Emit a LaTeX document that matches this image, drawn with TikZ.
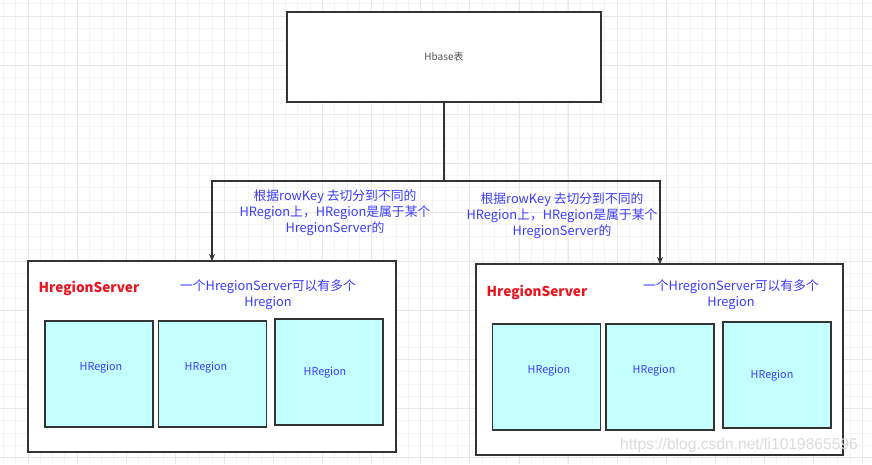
\documentclass[tikz,border=0pt]{standalone}
\usepackage{fontspec}
\setmainfont{Noto Sans CJK SC}
\newfontfamily\wmfont{Liberation Sans}
\usetikzlibrary{arrows.meta}
\definecolor{edge}{HTML}{333333}
\definecolor{regfill}{HTML}{C4FFFF}
\definecolor{bluetxt}{HTML}{3B3BFF}
\definecolor{redtxt}{HTML}{E8141E}
\definecolor{gridminor}{HTML}{F4F4F4}
\definecolor{gridmajor}{HTML}{E8E8E8}
\tikzset{
  box/.style={draw=edge, line width=1.6pt, fill=white, inner sep=0pt},
  region/.style={draw=edge, line width=1.6pt, fill=regfill, inner sep=0pt,
    minimum width=108pt, minimum height=106pt},
  regtxt/.style={text=bluetxt, font=\fontsize{10.8}{12}\selectfont, inner sep=0pt},
  bluelbl/.style={text=bluetxt, align=center, font=\fontsize{12.8}{16}\selectfont, inner sep=0pt},
  redlbl/.style={text=redtxt, font=\fontsize{13.6}{15}\selectfont\bfseries, inner sep=0pt},
  arr/.style={draw=edge, line width=1.4pt, -{Stealth[length=7pt,width=6pt]}},
}
\begin{document}
\begin{tikzpicture}[x=1pt,y=-1pt]
\useasboundingbox (0,0) rectangle (872,464);
\fill[white] (0,0) rectangle (872,464);
% grid
\foreach \i in {0,...,72} {
  \draw[gridminor, line width=0.8pt] ({3.4+\i*12.27},0) -- ({3.4+\i*12.27},464);
}
\foreach \i in {0,...,38} {
  \draw[gridminor, line width=0.8pt] (0,{3.7+\i*12.27}) -- (872,{3.7+\i*12.27});
}
\foreach \i in {0,...,18} {
  \draw[gridmajor, line width=0.9pt] ({28+\i*49.1},0) -- ({28+\i*49.1},464);
}
\foreach \i in {0,...,9} {
  \draw[gridmajor, line width=0.9pt] (0,{16+\i*49.1}) -- (872,{16+\i*49.1});
}

% Hbase table
\node[box, minimum width=314pt, minimum height=90pt, font=\fontsize{10}{12}\selectfont, text=edge!85] (hbase) at (444,57) {Hbase表};

% servers
\node[box, minimum width=368pt, minimum height=191pt] (serverL) at (212,356.5) {};
\node[box, minimum width=367pt, minimum height=191pt] (serverR) at (659.5,359.5) {};

% regions left
\node[region] (rl1) at (99,374) {};
\node[region] (rl2) at (212.5,374) {};
\node[region] (rl3) at (329,372) {};
\node[regtxt] (tl1) at (101,368) {HRegion};
\node[regtxt] (tl2) at (206,368) {HRegion};
\node[regtxt] (tl3) at (325,373) {HRegion};

% regions right
\node[region] (rr1) at (546.5,377) {};
\node[region] (rr2) at (660,377) {};
\node[region] (rr3) at (777,375) {};
\node[regtxt] (tr1) at (549,371) {HRegion};
\node[regtxt] (tr2) at (654,371) {HRegion};
\node[regtxt] (tr3) at (772,376) {HRegion};

% server labels
\node[redlbl] (sl) at (89,288) {HregionServer};
\node[redlbl] (sr) at (537,292) {HregionServer};
\node[bluelbl] (nl) at (268,295) {一个HregionServer可以有多个\\Hregion};
\node[bluelbl] (nr) at (731,295) {一个HregionServer可以有多个\\Hregion};

% connectors
\coordinate (split) at (444,181);
\coordinate (endL) at (212,261);
\coordinate (endR) at (660,264);
\draw[draw=edge, line width=1.4pt] (hbase.south) -- (split);
\draw[arr] (split) -| (endL);
\draw[arr] (split) -| (endR);

% arrow labels
\node[bluelbl] (al) at (335,213) {根据rowKey 去切分到不同的\\HRegion上，HRegion是属于某个\\HregionServer的};
\node[bluelbl] (ar) at (562,216) {根据rowKey 去切分到不同的\\HRegion上，HRegion是属于某个\\HregionServer的};

% watermark
\node[text=gray!28, font=\wmfont\fontsize{15.6}{18}\selectfont, anchor=west, inner sep=0pt] (wm) at (620,445) {https://blog.csdn.net/li1019865596};
\end{tikzpicture}
\end{document}
